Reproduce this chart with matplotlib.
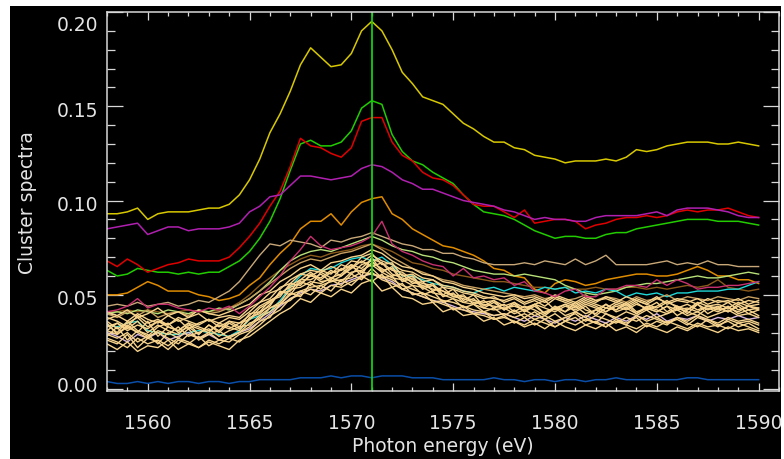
import numpy as np
import matplotlib
matplotlib.use("Agg")
import matplotlib.pyplot as plt
from matplotlib.patches import Rectangle
from matplotlib.ticker import MultipleLocator, FormatStrFormatter
from matplotlib.transforms import ScaledTranslation

plt.rcParams['font.family'] = ['DejaVu Sans']

# photon energy grid, 0.5 eV steps
energy = np.arange(1558.0, 1590.01, 0.5)
peak_energy = 1571.0

yellow = [0.093, 0.093, 0.094, 0.096, 0.090, 0.093, 0.094, 0.094, 0.094, 0.095,
          0.096, 0.096, 0.098, 0.103, 0.111, 0.122, 0.136, 0.146, 0.158, 0.172,
          0.181, 0.176, 0.171, 0.172, 0.178, 0.190, 0.195, 0.190, 0.180, 0.168,
          0.162, 0.155, 0.153, 0.151, 0.146, 0.141, 0.138, 0.134, 0.131, 0.131,
          0.128, 0.127, 0.124, 0.123, 0.122, 0.120, 0.121, 0.121, 0.121, 0.122,
          0.121, 0.123, 0.127, 0.126, 0.127, 0.129, 0.130, 0.131, 0.131, 0.131,
          0.130, 0.130, 0.131, 0.130, 0.129]
green = [0.063, 0.060, 0.061, 0.064, 0.063, 0.062, 0.062, 0.061, 0.062, 0.061,
         0.062, 0.062, 0.065, 0.068, 0.073, 0.080, 0.089, 0.101, 0.116, 0.130,
         0.132, 0.129, 0.129, 0.131, 0.137, 0.149, 0.153, 0.151, 0.135, 0.126,
         0.121, 0.119, 0.115, 0.112, 0.109, 0.103, 0.098, 0.094, 0.093, 0.092,
         0.090, 0.087, 0.084, 0.082, 0.080, 0.081, 0.081, 0.080, 0.080, 0.082,
         0.083, 0.083, 0.085, 0.086, 0.087, 0.088, 0.089, 0.090, 0.090, 0.090,
         0.089, 0.089, 0.089, 0.088, 0.087]
red = [0.068, 0.065, 0.069, 0.066, 0.062, 0.064, 0.066, 0.067, 0.069, 0.068,
       0.068, 0.068, 0.070, 0.075, 0.081, 0.088, 0.097, 0.105, 0.118, 0.133,
       0.129, 0.128, 0.125, 0.123, 0.128, 0.142, 0.144, 0.144, 0.131, 0.124,
       0.121, 0.115, 0.112, 0.111, 0.108, 0.103, 0.098, 0.097, 0.097, 0.094,
       0.091, 0.095, 0.088, 0.089, 0.090, 0.090, 0.089, 0.085, 0.087, 0.088,
       0.090, 0.091, 0.091, 0.092, 0.091, 0.092, 0.094, 0.095, 0.094, 0.095,
       0.095, 0.096, 0.094, 0.092, 0.091]
magenta = [0.085, 0.086, 0.087, 0.088, 0.082, 0.084, 0.086, 0.086, 0.084, 0.085,
           0.085, 0.085, 0.086, 0.088, 0.094, 0.097, 0.102, 0.103, 0.108, 0.113,
           0.113, 0.112, 0.111, 0.112, 0.113, 0.117, 0.119, 0.118, 0.115, 0.111,
           0.109, 0.106, 0.106, 0.104, 0.102, 0.100, 0.099, 0.098, 0.097, 0.095,
           0.094, 0.092, 0.090, 0.091, 0.090, 0.090, 0.089, 0.089, 0.091, 0.092,
           0.092, 0.092, 0.092, 0.093, 0.094, 0.092, 0.095, 0.096, 0.096, 0.096,
           0.095, 0.094, 0.092, 0.091, 0.091]
orange = [0.050, 0.050, 0.051, 0.054, 0.057, 0.055, 0.052, 0.052, 0.052, 0.050,
          0.049, 0.047, 0.048, 0.050, 0.055, 0.059, 0.066, 0.072, 0.077, 0.085,
          0.089, 0.089, 0.093, 0.087, 0.094, 0.099, 0.101, 0.102, 0.093, 0.090,
          0.085, 0.082, 0.079, 0.076, 0.075, 0.073, 0.071, 0.068, 0.064, 0.063,
          0.060, 0.059, 0.053, 0.051, 0.056, 0.058, 0.057, 0.055, 0.056, 0.058,
          0.059, 0.060, 0.061, 0.061, 0.060, 0.060, 0.061, 0.063, 0.065, 0.063,
          0.060, 0.060, 0.058, 0.058, 0.056]
blue = [0.004, 0.003, 0.003, 0.004, 0.003, 0.004, 0.003, 0.004, 0.004, 0.003,
        0.004, 0.004, 0.003, 0.004, 0.004, 0.005, 0.005, 0.005, 0.005, 0.006,
        0.006, 0.006, 0.007, 0.006, 0.007, 0.007, 0.006, 0.007, 0.007, 0.007,
        0.006, 0.006, 0.006, 0.005, 0.005, 0.005, 0.005, 0.005, 0.006, 0.005,
        0.005, 0.004, 0.005, 0.005, 0.004, 0.005, 0.005, 0.004, 0.005, 0.005,
        0.006, 0.005, 0.005, 0.005, 0.005, 0.005, 0.005, 0.006, 0.006, 0.005,
        0.005, 0.005, 0.005, 0.005, 0.005]
tan_top = [0.044, 0.045, 0.044, 0.046, 0.044, 0.045, 0.046, 0.044, 0.045, 0.047,
           0.046, 0.049, 0.052, 0.057, 0.064, 0.071, 0.077, 0.076, 0.079, 0.078,
           0.077, 0.075, 0.079, 0.078, 0.080, 0.081, 0.083, 0.081, 0.079, 0.077,
           0.076, 0.074, 0.074, 0.072, 0.072, 0.070, 0.069, 0.067, 0.066, 0.066,
           0.066, 0.067, 0.066, 0.068, 0.067, 0.066, 0.069, 0.066, 0.068, 0.071,
           0.066, 0.066, 0.066, 0.066, 0.067, 0.068, 0.066, 0.067, 0.066, 0.068,
           0.066, 0.066, 0.065, 0.065, 0.065]
pink = [0.041, 0.042, 0.044, 0.048, 0.043, 0.045, 0.045, 0.043, 0.042, 0.041,
        0.043, 0.042, 0.044, 0.040, 0.044, 0.049, 0.054, 0.060, 0.068, 0.074,
        0.081, 0.076, 0.074, 0.075, 0.076, 0.078, 0.081, 0.089, 0.077, 0.073,
        0.071, 0.068, 0.066, 0.065, 0.060, 0.064, 0.059, 0.060, 0.058, 0.059,
        0.055, 0.057, 0.052, 0.051, 0.049, 0.052, 0.053, 0.049, 0.049, 0.053,
        0.053, 0.055, 0.055, 0.054, 0.058, 0.055, 0.058, 0.056, 0.053, 0.054,
        0.054, 0.055, 0.055, 0.056, 0.057]
cyan = [0.034, 0.033, 0.035, 0.036, 0.031, 0.030, 0.029, 0.029, 0.030, 0.031,
        0.030, 0.029, 0.028, 0.031, 0.037, 0.039, 0.041, 0.047, 0.054, 0.060,
        0.064, 0.063, 0.064, 0.067, 0.069, 0.070, 0.068, 0.070, 0.066, 0.060,
        0.060, 0.058, 0.056, 0.055, 0.054, 0.052, 0.051, 0.053, 0.054, 0.052,
        0.054, 0.053, 0.052, 0.054, 0.053, 0.054, 0.051, 0.052, 0.051, 0.053,
        0.052, 0.049, 0.051, 0.050, 0.051, 0.049, 0.051, 0.051, 0.052, 0.052,
        0.052, 0.053, 0.053, 0.055, 0.057]
light_green = [0.040, 0.041, 0.040, 0.042, 0.041, 0.040, 0.042, 0.041, 0.040, 0.042,
               0.041, 0.043, 0.042, 0.045, 0.048, 0.052, 0.057, 0.063, 0.068, 0.071,
               0.073, 0.074, 0.073, 0.075, 0.077, 0.079, 0.081, 0.079, 0.076, 0.074,
               0.073, 0.071, 0.070, 0.068, 0.067, 0.065, 0.063, 0.062, 0.061, 0.061,
               0.060, 0.061, 0.060, 0.059, 0.058, 0.055, 0.053, 0.051, 0.050, 0.051,
               0.052, 0.054, 0.055, 0.056, 0.056, 0.057, 0.058, 0.059, 0.060, 0.059,
               0.059, 0.060, 0.061, 0.062, 0.061]
brown = [0.041, 0.041, 0.042, 0.041, 0.042, 0.041, 0.040, 0.041, 0.042, 0.041,
         0.041, 0.042, 0.043, 0.046, 0.050, 0.055, 0.059, 0.063, 0.066, 0.069,
         0.071, 0.070, 0.072, 0.073, 0.074, 0.076, 0.077, 0.075, 0.073, 0.070,
         0.067, 0.066, 0.064, 0.063, 0.061, 0.060, 0.059, 0.058, 0.057, 0.057,
         0.056, 0.055, 0.054, 0.054, 0.053, 0.054, 0.053, 0.053, 0.054, 0.053,
         0.053, 0.054, 0.054, 0.053, 0.054, 0.053, 0.054, 0.055, 0.054, 0.055,
         0.058, 0.054, 0.053, 0.052, 0.053]
lavender = [0.030, 0.028, 0.025, 0.029, 0.027, 0.030, 0.026, 0.028, 0.030, 0.027,
            0.029, 0.026, 0.028, 0.030, 0.032, 0.036, 0.040, 0.044, 0.048, 0.051,
            0.053, 0.052, 0.055, 0.056, 0.058, 0.060, 0.061, 0.059, 0.057, 0.053,
            0.051, 0.049, 0.047, 0.046, 0.044, 0.042, 0.041, 0.040, 0.039, 0.040,
            0.038, 0.036, 0.039, 0.037, 0.035, 0.038, 0.036, 0.039, 0.037, 0.035,
            0.038, 0.036, 0.039, 0.037, 0.040, 0.036, 0.038, 0.037, 0.039, 0.036,
            0.038, 0.037, 0.039, 0.037, 0.038]
tan_mid = [0.040, 0.038, 0.041, 0.039, 0.042, 0.038, 0.040, 0.041, 0.039, 0.042,
           0.040, 0.041, 0.043, 0.045, 0.048, 0.052, 0.056, 0.060, 0.064, 0.067,
           0.069, 0.068, 0.070, 0.072, 0.073, 0.075, 0.077, 0.074, 0.070, 0.067,
           0.064, 0.062, 0.060, 0.058, 0.057, 0.055, 0.054, 0.053, 0.052, 0.051,
           0.050, 0.049, 0.050, 0.048, 0.049, 0.047, 0.048, 0.050, 0.047, 0.049,
           0.048, 0.046, 0.049, 0.047, 0.048, 0.050, 0.047, 0.049, 0.048, 0.047,
           0.049, 0.048, 0.047, 0.049, 0.048]

# the crowd of weak clusters (light beige)
beige_1 = [0.034, 0.030, 0.036, 0.031, 0.028, 0.033, 0.035, 0.030, 0.033, 0.029,
           0.034, 0.031, 0.036, 0.033, 0.040, 0.041, 0.047, 0.049, 0.056, 0.055,
           0.061, 0.057, 0.058, 0.064, 0.061, 0.066, 0.068, 0.063, 0.064, 0.057,
           0.059, 0.053, 0.055, 0.049, 0.051, 0.046, 0.048, 0.043, 0.046, 0.042,
           0.045, 0.041, 0.044, 0.040, 0.043, 0.045, 0.041, 0.044, 0.039, 0.043,
           0.042, 0.045, 0.040, 0.043, 0.041, 0.044, 0.039, 0.042, 0.045, 0.040,
           0.043, 0.041, 0.044, 0.040, 0.042]
beige_2 = [0.026, 0.024, 0.029, 0.022, 0.027, 0.025, 0.021, 0.026, 0.024, 0.028,
           0.023, 0.026, 0.025, 0.029, 0.031, 0.036, 0.038, 0.045, 0.047, 0.052,
           0.050, 0.055, 0.052, 0.058, 0.055, 0.060, 0.057, 0.061, 0.054, 0.056,
           0.050, 0.051, 0.046, 0.047, 0.042, 0.044, 0.040, 0.041, 0.037, 0.039,
           0.035, 0.038, 0.034, 0.037, 0.033, 0.036, 0.038, 0.034, 0.036, 0.033,
           0.037, 0.035, 0.038, 0.033, 0.036, 0.034, 0.038, 0.035, 0.033, 0.037,
           0.034, 0.036, 0.033, 0.035, 0.032]
beige_3 = [0.038, 0.036, 0.033, 0.039, 0.035, 0.037, 0.034, 0.038, 0.036, 0.034,
           0.037, 0.035, 0.038, 0.037, 0.041, 0.046, 0.048, 0.054, 0.056, 0.061,
           0.060, 0.063, 0.061, 0.066, 0.064, 0.070, 0.072, 0.066, 0.067, 0.060,
           0.061, 0.057, 0.058, 0.054, 0.053, 0.051, 0.050, 0.048, 0.049, 0.046,
           0.048, 0.045, 0.047, 0.044, 0.048, 0.046, 0.044, 0.047, 0.045, 0.043,
           0.046, 0.044, 0.047, 0.045, 0.043, 0.046, 0.044, 0.042, 0.046, 0.044,
           0.045, 0.043, 0.046, 0.044, 0.045]
beige_4 = [0.028, 0.033, 0.026, 0.031, 0.029, 0.024, 0.030, 0.027, 0.032, 0.026,
           0.029, 0.031, 0.027, 0.030, 0.035, 0.037, 0.043, 0.045, 0.051, 0.049,
           0.056, 0.053, 0.058, 0.055, 0.061, 0.058, 0.064, 0.059, 0.060, 0.053,
           0.055, 0.050, 0.052, 0.046, 0.048, 0.043, 0.045, 0.041, 0.043, 0.039,
           0.042, 0.038, 0.041, 0.037, 0.040, 0.036, 0.041, 0.038, 0.035, 0.040,
           0.037, 0.034, 0.039, 0.036, 0.038, 0.035, 0.037, 0.034, 0.038, 0.036,
           0.033, 0.037, 0.035, 0.036, 0.034]
beige_5 = [0.041, 0.039, 0.042, 0.038, 0.040, 0.043, 0.039, 0.041, 0.038, 0.042,
           0.040, 0.039, 0.041, 0.043, 0.045, 0.050, 0.052, 0.057, 0.060, 0.064,
           0.066, 0.063, 0.067, 0.068, 0.070, 0.071, 0.074, 0.072, 0.068, 0.065,
           0.064, 0.061, 0.060, 0.057, 0.056, 0.054, 0.053, 0.051, 0.050, 0.049,
           0.050, 0.048, 0.049, 0.047, 0.050, 0.048, 0.046, 0.049, 0.047, 0.048,
           0.046, 0.049, 0.047, 0.045, 0.048, 0.046, 0.048, 0.047, 0.045, 0.048,
           0.046, 0.047, 0.045, 0.047, 0.046]
beige_6 = [0.024, 0.021, 0.025, 0.020, 0.023, 0.022, 0.026, 0.021, 0.024, 0.022,
           0.025, 0.023, 0.021, 0.026, 0.028, 0.032, 0.036, 0.040, 0.043, 0.048,
           0.046, 0.051, 0.049, 0.053, 0.051, 0.056, 0.058, 0.052, 0.054, 0.049,
           0.048, 0.045, 0.046, 0.041, 0.043, 0.039, 0.040, 0.036, 0.038, 0.034,
           0.036, 0.033, 0.035, 0.032, 0.036, 0.033, 0.031, 0.034, 0.032, 0.035,
           0.031, 0.033, 0.030, 0.034, 0.032, 0.030, 0.033, 0.031, 0.034, 0.032,
           0.030, 0.033, 0.031, 0.032, 0.030]
beige_7 = [0.031, 0.035, 0.032, 0.036, 0.030, 0.034, 0.031, 0.029, 0.034, 0.032,
           0.030, 0.035, 0.033, 0.031, 0.038, 0.040, 0.045, 0.051, 0.052, 0.058,
           0.058, 0.061, 0.057, 0.060, 0.065, 0.062, 0.067, 0.064, 0.060, 0.061,
           0.056, 0.057, 0.052, 0.054, 0.049, 0.050, 0.045, 0.047, 0.043, 0.045,
           0.041, 0.044, 0.042, 0.039, 0.043, 0.041, 0.044, 0.040, 0.042, 0.045,
           0.041, 0.043, 0.040, 0.044, 0.042, 0.040, 0.043, 0.041, 0.039, 0.043,
           0.041, 0.044, 0.040, 0.042, 0.039]
beige_8 = [0.036, 0.032, 0.035, 0.038, 0.033, 0.036, 0.034, 0.037, 0.032, 0.035,
           0.037, 0.033, 0.036, 0.035, 0.039, 0.044, 0.047, 0.050, 0.055, 0.058,
           0.062, 0.058, 0.062, 0.063, 0.066, 0.064, 0.069, 0.067, 0.063, 0.062,
           0.058, 0.056, 0.055, 0.052, 0.050, 0.049, 0.047, 0.046, 0.047, 0.044,
           0.046, 0.043, 0.045, 0.047, 0.042, 0.045, 0.043, 0.046, 0.044, 0.041,
           0.045, 0.043, 0.046, 0.042, 0.044, 0.047, 0.043, 0.045, 0.042, 0.044,
           0.043, 0.046, 0.042, 0.044, 0.043]
beige_9 = [0.029, 0.027, 0.030, 0.025, 0.028, 0.030, 0.027, 0.024, 0.029, 0.027,
           0.030, 0.026, 0.028, 0.030, 0.033, 0.038, 0.041, 0.045, 0.050, 0.052,
           0.054, 0.055, 0.057, 0.058, 0.059, 0.062, 0.061, 0.060, 0.058, 0.055,
           0.053, 0.051, 0.049, 0.047, 0.046, 0.044, 0.042, 0.041, 0.039, 0.040,
           0.038, 0.040, 0.037, 0.039, 0.036, 0.038, 0.040, 0.036, 0.039, 0.037,
           0.035, 0.038, 0.036, 0.039, 0.037, 0.035, 0.038, 0.036, 0.039, 0.037,
           0.035, 0.038, 0.036, 0.037, 0.035]
beige_10 = [0.035, 0.029, 0.034, 0.030, 0.036, 0.028, 0.033, 0.031, 0.035, 0.029,
            0.034, 0.030, 0.035, 0.032, 0.037, 0.041, 0.044, 0.052, 0.050, 0.057,
            0.055, 0.062, 0.059, 0.061, 0.066, 0.060, 0.070, 0.062, 0.065, 0.058,
            0.060, 0.054, 0.056, 0.050, 0.053, 0.047, 0.050, 0.044, 0.047, 0.042,
            0.046, 0.041, 0.045, 0.040, 0.044, 0.041, 0.046, 0.042, 0.040, 0.045,
            0.042, 0.046, 0.041, 0.043, 0.046, 0.041, 0.044, 0.040, 0.045, 0.042,
            0.044, 0.041, 0.045, 0.042, 0.043]
beige_11 = [0.031, 0.029, 0.033, 0.030, 0.027, 0.031, 0.029, 0.033, 0.028, 0.030,
            0.032, 0.028, 0.031, 0.033, 0.034, 0.039, 0.043, 0.046, 0.053, 0.054,
            0.057, 0.056, 0.059, 0.057, 0.062, 0.063, 0.066, 0.062, 0.059, 0.058,
            0.055, 0.054, 0.051, 0.050, 0.048, 0.046, 0.045, 0.043, 0.042, 0.043,
            0.040, 0.042, 0.039, 0.041, 0.043, 0.039, 0.041, 0.038, 0.042, 0.040,
            0.038, 0.041, 0.039, 0.042, 0.038, 0.040, 0.042, 0.039, 0.041, 0.038,
            0.040, 0.042, 0.039, 0.040, 0.038]
beige_12 = [0.037, 0.039, 0.036, 0.040, 0.037, 0.035, 0.039, 0.036, 0.038, 0.040,
            0.036, 0.038, 0.039, 0.038, 0.043, 0.046, 0.051, 0.053, 0.058, 0.061,
            0.063, 0.062, 0.065, 0.063, 0.068, 0.067, 0.071, 0.068, 0.066, 0.063,
            0.062, 0.059, 0.058, 0.055, 0.054, 0.052, 0.051, 0.049, 0.048, 0.047,
            0.049, 0.046, 0.048, 0.046, 0.049, 0.047, 0.045, 0.048, 0.046, 0.049,
            0.047, 0.045, 0.048, 0.046, 0.049, 0.045, 0.047, 0.046, 0.048, 0.045,
            0.047, 0.046, 0.048, 0.045, 0.047]
beige_13 = [0.027, 0.025, 0.022, 0.027, 0.024, 0.026, 0.023, 0.027, 0.025, 0.022,
            0.026, 0.024, 0.027, 0.025, 0.030, 0.034, 0.039, 0.042, 0.048, 0.050,
            0.053, 0.051, 0.055, 0.054, 0.057, 0.059, 0.062, 0.058, 0.056, 0.053,
            0.051, 0.049, 0.047, 0.045, 0.043, 0.042, 0.040, 0.039, 0.037, 0.038,
            0.036, 0.034, 0.037, 0.035, 0.033, 0.036, 0.034, 0.037, 0.035, 0.033,
            0.036, 0.034, 0.032, 0.035, 0.033, 0.036, 0.034, 0.032, 0.035, 0.033,
            0.034, 0.032, 0.035, 0.033, 0.031]
beige_14 = [0.033, 0.035, 0.031, 0.034, 0.032, 0.036, 0.033, 0.031, 0.035, 0.033,
            0.031, 0.034, 0.032, 0.035, 0.037, 0.043, 0.046, 0.051, 0.054, 0.056,
            0.060, 0.059, 0.063, 0.060, 0.064, 0.068, 0.065, 0.067, 0.061, 0.059,
            0.057, 0.055, 0.053, 0.052, 0.049, 0.048, 0.046, 0.045, 0.044, 0.043,
            0.044, 0.042, 0.045, 0.043, 0.041, 0.044, 0.042, 0.045, 0.043, 0.041,
            0.044, 0.042, 0.045, 0.043, 0.041, 0.044, 0.042, 0.043, 0.041, 0.044,
            0.042, 0.043, 0.041, 0.044, 0.042]

beige_lines = [beige_1, beige_2, beige_3, beige_4, beige_5, beige_6, beige_7,
               beige_8, beige_9, beige_10, beige_11, beige_12, beige_13, beige_14]

fig = plt.figure(figsize=(7.84, 4.6), dpi=100, facecolor='white')
# black panel behind everything, thin white margins on top/left/right
fig.patches.append(Rectangle((10 / 784, 0), 771 / 784, 453 / 460,
                             transform=fig.transFigure, facecolor='black',
                             edgecolor='none', zorder=-10))

ax = fig.add_axes([107 / 784, 68 / 460, 672 / 784, 379 / 460])
ax.set_facecolor('black')

ax.plot(energy, blue, color='#0a4ea8', lw=1.1)
ax.plot(energy, yellow, color='#d8c800', lw=1.1)
ax.plot(energy, green, color='#22cc00', lw=1.1)
ax.plot(energy, red, color='#e00000', lw=1.1)
ax.plot(energy, magenta, color='#b020b0', lw=1.1)
ax.plot(energy, orange, color='#e08c00', lw=1.1)
ax.plot(energy, tan_top, color='#c8a878', lw=1.0)
ax.plot(energy, brown, color='#8b5a1a', lw=1.0)
ax.plot(energy, light_green, color='#b8e078', lw=1.0)
ax.plot(energy, cyan, color='#20d8d8', lw=1.0)
ax.plot(energy, lavender, color='#d8b8e0', lw=1.0)
ax.plot(energy, tan_mid, color='#c8a060', lw=1.0)
for vals in beige_lines:
    ax.plot(energy, vals, color='#f8d48c', lw=1.0)
ax.plot(energy, pink, color='#c83070', lw=1.0)

ax.axvline(peak_energy, color='#10d010', lw=1.3)

ax.set_xlim(1558, 1591)
ax.set_ylim(-0.001, 0.2)
ax.xaxis.set_major_locator(MultipleLocator(5))
ax.xaxis.set_minor_locator(MultipleLocator(1))
ax.yaxis.set_major_locator(MultipleLocator(0.05))
ax.yaxis.set_minor_locator(MultipleLocator(0.01))
ax.yaxis.set_major_formatter(FormatStrFormatter('%.2f'))

axis_col = '#d8d8d8'
text_col = '#e4e4e4'
for sp in ax.spines.values():
    sp.set_color(axis_col)
    sp.set_linewidth(1.1)
ax.tick_params(which='both', direction='in', top=True, right=True,
               color=axis_col, width=0.9, labelcolor=text_col, labelsize=13.5)
ax.tick_params(axis='x', which='major', length=6, pad=16)
ax.tick_params(axis='x', which='minor', length=3)
ax.tick_params(axis='y', which='major', length=11.5, pad=6.5)
ax.tick_params(axis='y', which='minor', length=5.8)

ax.set_xlabel('Photon energy (eV)', color=text_col, fontsize=13.5, labelpad=3)
ax.set_ylabel('Cluster spectra', color=text_col, fontsize=13.5, labelpad=14)

# y labels sit a little below their ticks, the end ones pulled inside
fig.canvas.draw()
for tick in ax.yaxis.get_major_ticks():
    loc = tick.get_loc()
    dy = -2
    if loc > 0.19:
        dy = -10
    elif abs(loc) < 0.001:
        dy = 6
    tick.label1.set_transform(tick.label1.get_transform()
                              + ScaledTranslation(0, dy / 100, fig.dpi_scale_trans))

fig.savefig('out.png', dpi=100, facecolor=fig.get_facecolor())
